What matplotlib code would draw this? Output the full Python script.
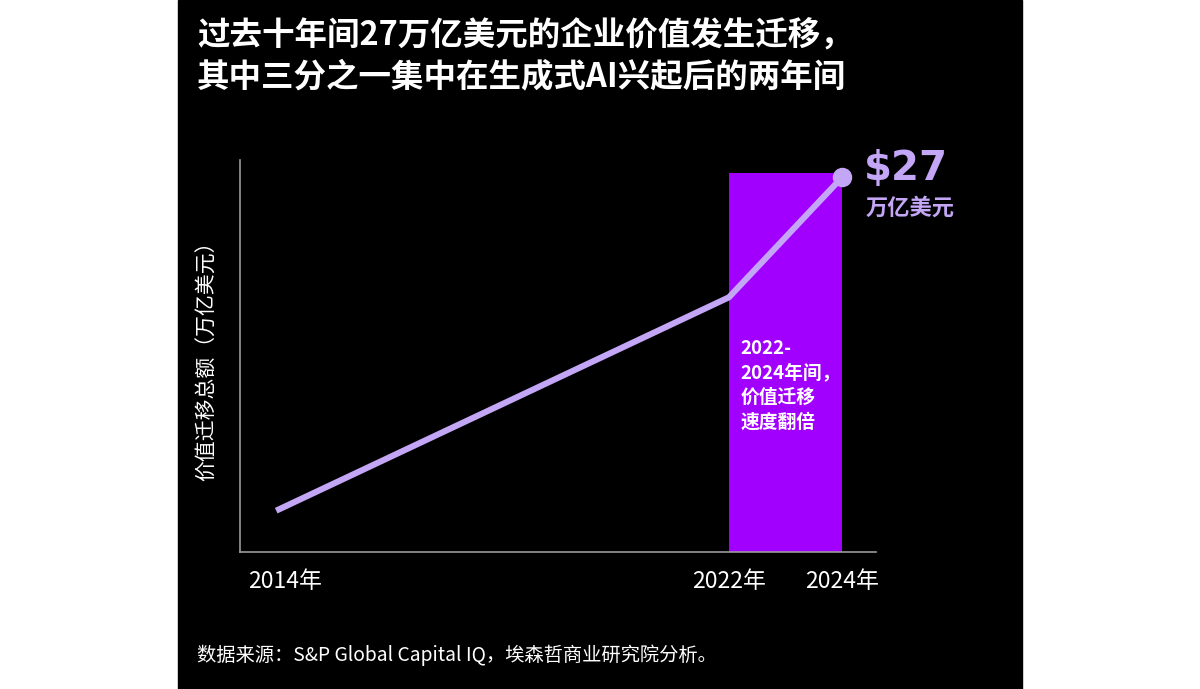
import matplotlib
matplotlib.use("Agg")
from matplotlib import pyplot as plt
from matplotlib.patches import Rectangle
from matplotlib.transforms import ScaledTranslation

plt.rcParams['font.family'] = ['Noto Sans CJK SC', 'DejaVu Sans']

# data
years = [2014, 2022, 2024]
values = [2, 18, 27]
tick_labels = ["2014年", "2022年", "2024年"]
highlight_span = (2022, 2024)
highlight_top = 27.3
y_floor = -1.1

title = "过去十年间27万亿美元的企业价值发生迁移，\n其中三分之一集中在生成式AI兴起后的两年间"
ylabel = "价值迁移总额（万亿美元）"
bar_note = "2022-\n2024年间，\n价值迁移\n速度翻倍"
end_value = "$27"
end_unit = "万亿美元"
source = "数据来源：S&P Global Capital IQ，埃森哲商业研究院分析。"

PURPLE = "#A100FF"
LAVENDER = "#C4A6F6"
AXIS = "#9a9a9a"


def main():
    fig = plt.figure(figsize=(12, 6.89), dpi=100)
    fig.patch.set_facecolor("white")
    # black panel in the middle
    fig.patches.append(Rectangle((178 / 1200, 0), 844 / 1200, 1,
                                 transform=fig.transFigure, color="black", zorder=-10))

    ax = fig.add_axes([240 / 1200, 1 - 552 / 689, 636 / 1200, 392 / 689])
    ax.set_facecolor("black")

    ax.bar(highlight_span[0], highlight_top - y_floor, bottom=y_floor,
           width=highlight_span[1] - highlight_span[0],
           align="edge", color=PURPLE, zorder=1)
    ax.plot(years, values, color=LAVENDER, lw=4.4, solid_capstyle="butt", zorder=2)
    ax.plot(years[-1], values[-1], "o", color=LAVENDER, ms=13, zorder=3)

    ax.set_xlim(2013.36, 2024.6)
    ax.set_ylim(y_floor, 28.3)

    for s in ["top", "right"]:
        ax.spines[s].set_visible(False)
    for s in ["left", "bottom"]:
        ax.spines[s].set_color(AXIS)
        ax.spines[s].set_linewidth(1.2)
        ax.spines[s].set_zorder(4)

    ax.set_yticks([])
    ax.set_xticks(years)
    ax.set_xticklabels(tick_labels, color="white", fontsize=16.5)
    ax.tick_params(axis="x", length=0, pad=13)
    # first label sits a little right of its year in the original
    first = ax.get_xticklabels()[0]
    first.set_transform(first.get_transform() + ScaledTranslation(9 / 100, 0, fig.dpi_scale_trans))

    ax.set_ylabel(ylabel, color="white", fontsize=15, labelpad=16)

    ax.text(highlight_span[0] + 0.2, 14.9, bar_note, color="white", fontsize=13.5,
            fontweight="bold", va="top", ha="left", linespacing=1.38)

    ax.annotate(end_value, (years[-1], values[-1]), xytext=(16, 6), textcoords="offset points",
                color=LAVENDER, fontsize=29, fontweight="bold", va="center", ha="left",
                family=["DejaVu Sans"])
    ax.annotate(end_unit, (years[-1], values[-1]), xytext=(17, -22), textcoords="offset points",
                color=LAVENDER, fontsize=16, fontweight="bold", va="center", ha="left")

    fig.text(197 / 1200, 1 - 56 / 689, title, color="white", fontsize=23.4,
             fontweight="bold", va="center", ha="left", linespacing=1.3)
    fig.text(197 / 1200, 1 - 655 / 689, source, color="white", fontsize=13.9,
             va="center", ha="left")

    plt.savefig("out.png", dpi=100)


if __name__ == '__main__':
    main()
